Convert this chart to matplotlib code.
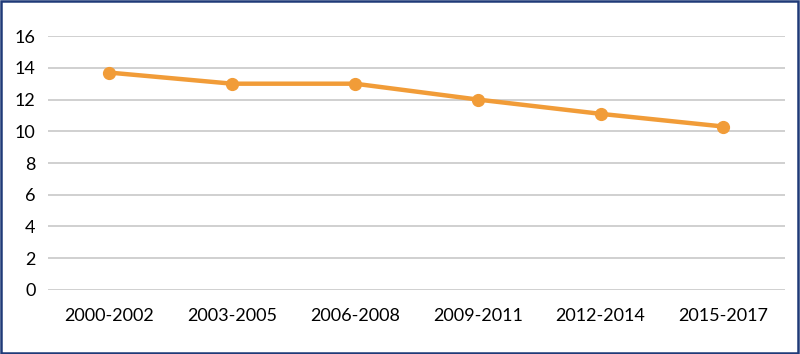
import matplotlib.pyplot as plt
from matplotlib.patches import Rectangle

# Dados
periodos = ['2000-2002', '2003-2005', '2006-2008', '2009-2011', '2012-2014', '2015-2017']
valores = [13.7, 13.0, 13.0, 12.0, 11.1, 10.3]
yticks = [0, 2, 4, 6, 8, 10, 12, 14, 16]

plt.rcParams['font.family'] = ['Lato', 'DejaVu Sans']

fig = plt.figure(figsize=(8, 3.54), dpi=100)
ax = fig.add_axes([0.06, 0.181, 0.921, 0.717])

x = range(len(periodos))
ax.plot(x, valores, color='#F19C38', linewidth=3.2, marker='o', markersize=8.5,
        solid_capstyle='round', zorder=3)

ax.set_xlim(-0.5, len(periodos) - 0.5)
ax.set_ylim(0, 16)
ax.set_yticks(yticks)
ax.set_xticks(list(x))
ax.set_xticklabels(periodos)
ax.grid(axis='y', color='#C8C8C8', linewidth=1.2)
ax.set_axisbelow(True)
for s in ax.spines.values():
    s.set_visible(False)
ax.tick_params(length=0, labelsize=13, colors='black')
ax.tick_params(axis='x', pad=13)
ax.tick_params(axis='y', pad=9)

# Borda da figura
fig.patches.append(Rectangle((0.001, 0.002), 0.997, 0.995, transform=fig.transFigure,
                             fill=False, edgecolor='#1F3A78', linewidth=1.8))

fig.savefig('out.png', dpi=100)
